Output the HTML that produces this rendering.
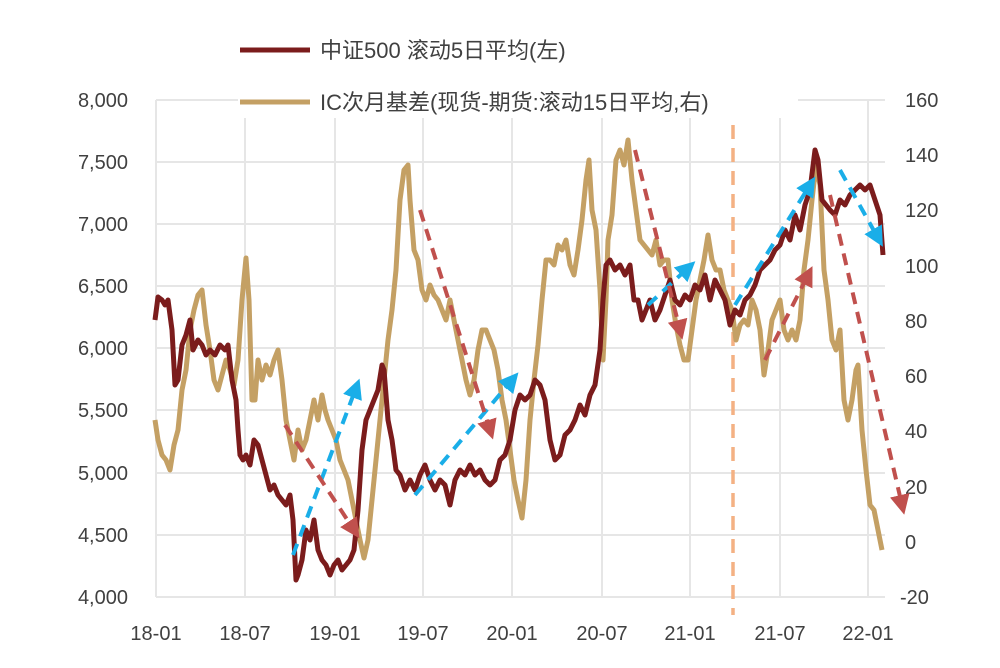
<!DOCTYPE html>
<html><head><meta charset="utf-8"><style>
body{margin:0;background:#fff}
svg text{font-family:"Liberation Sans","Noto Sans CJK SC",sans-serif;fill:#404040}
</style></head><body>
<svg width="1000" height="663" viewBox="0 0 1000 663" xmlns="http://www.w3.org/2000/svg">
<defs>
<marker id="ab" markerWidth="5" markerHeight="5" refX="2.5" refY="2.5" orient="auto" markerUnits="strokeWidth"><path d="M0,0 L5,2.5 L0,5 z" fill="#1aaee8"/></marker>
<marker id="ar" markerWidth="5" markerHeight="5" refX="2.5" refY="2.5" orient="auto" markerUnits="strokeWidth"><path d="M0,0 L5,2.5 L0,5 z" fill="#c0504d"/></marker>
</defs>
<g stroke="#e6e6e6" stroke-width="2">
<line x1="156" y1="100" x2="885" y2="100"/><line x1="156" y1="162" x2="885" y2="162"/><line x1="156" y1="224" x2="885" y2="224"/><line x1="156" y1="286" x2="885" y2="286"/><line x1="156" y1="348" x2="885" y2="348"/><line x1="156" y1="410" x2="885" y2="410"/><line x1="156" y1="473" x2="885" y2="473"/><line x1="156" y1="535" x2="885" y2="535"/><line x1="156" y1="597" x2="885" y2="597"/>
<line x1="156" y1="100" x2="156" y2="597"/><line x1="245" y1="100" x2="245" y2="597"/><line x1="335" y1="100" x2="335" y2="597"/><line x1="423" y1="100" x2="423" y2="597"/><line x1="512" y1="100" x2="512" y2="597"/><line x1="602" y1="100" x2="602" y2="597"/><line x1="690" y1="100" x2="690" y2="597"/><line x1="780" y1="100" x2="780" y2="597"/><line x1="868" y1="100" x2="868" y2="597"/>
</g>
<g font-size="20" text-anchor="end">
<text x="128" y="107">8,000</text><text x="128" y="169">7,500</text><text x="128" y="231">7,000</text><text x="128" y="293">6,500</text><text x="128" y="355">6,000</text><text x="128" y="417">5,500</text><text x="128" y="480">5,000</text><text x="128" y="542">4,500</text><text x="128" y="604">4,000</text>
</g>
<g font-size="20">
<text x="905" y="107">160</text><text x="905" y="162">140</text><text x="905" y="217">120</text><text x="905" y="273">100</text><text x="905" y="328">80</text><text x="905" y="383">60</text><text x="905" y="438">40</text><text x="905" y="494">20</text><text x="905" y="549">0</text><text x="900" y="604">-20</text>
</g>
<g font-size="20" text-anchor="middle">
<text x="156" y="640">18-01</text><text x="245" y="640">18-07</text><text x="335" y="640">19-01</text><text x="423" y="640">19-07</text><text x="512" y="640">20-01</text><text x="602" y="640">20-07</text><text x="690" y="640">21-01</text><text x="780" y="640">21-07</text><text x="868" y="640">22-01</text>
</g>
<line x1="733" y1="125" x2="733" y2="615" stroke="#f4b183" stroke-width="3.5" stroke-dasharray="14,9"/>
<polyline fill="none" stroke="#c4a064" stroke-width="5" stroke-linejoin="round" points="155,420 158,440 162,455 166,460 170,470 174,445 178,430 182,390 186,370 190,330 194,310 198,295 202,290 206,325 210,350 214,380 218,390 222,375 226,360 230,370 234,385 238,360 242,300 246,258 249,300 252,400 255,400 258,360 262,380 266,365 270,375 274,360 278,350 282,380 286,420 290,440 294,460 298,430 302,450 306,440 310,420 314,400 318,420 322,395 325,410 328,420 332,430 336,440 340,460 344,470 348,480 352,500 356,520 360,540 364,558 368,540 372,500 376,460 380,420 384,380 388,340 392,310 396,270 400,200 404,170 408,165 410,200 414,250 418,260 422,290 426,300 430,285 434,295 438,300 442,310 446,320 450,300 454,320 458,340 462,360 466,380 470,395 474,380 478,350 482,330 486,330 490,340 494,350 498,370 502,400 506,420 510,450 514,480 518,500 522,518 526,480 530,420 534,380 538,345 542,300 546,260 550,260 554,265 558,245 562,250 566,240 570,265 574,275 578,250 582,220 586,180 589,160 592,210 596,230 600,290 603,360 606,300 608,240 612,215 616,160 620,150 624,165 628,140 632,180 636,210 640,240 644,245 648,250 652,255 656,240 660,265 664,260 668,260 672,300 676,325 680,345 684,360 688,360 692,330 696,300 700,280 704,260 708,235 712,260 716,270 720,270 724,290 728,300 732,310 736,340 740,325 744,320 748,325 752,300 756,310 760,330 764,375 768,350 772,320 776,310 780,300 784,330 788,340 792,330 796,340 800,320 804,270 808,240 812,200 816,165 820,185 824,270 828,300 832,340 836,350 840,330 844,400 848,420 852,400 856,370 858,365 862,430 866,470 870,505 874,510 878,530 882,550"/>
<polyline fill="none" stroke="#7b1c1c" stroke-width="5" stroke-linejoin="round" points="155,320 158,297 162,300 165,305 168,300 172,330 175,385 178,380 182,345 186,335 190,320 193,350 198,340 202,345 206,355 210,350 215,355 220,345 225,350 228,345 232,380 236,400 238,430 240,455 243,460 246,455 250,465 254,440 258,445 262,460 266,475 270,490 274,485 278,495 282,500 286,505 290,495 293,520 296,580 298,575 302,560 306,530 310,540 314,520 318,550 322,560 326,565 330,575 334,565 338,560 342,570 346,565 350,560 354,550 358,510 362,450 366,420 370,410 374,400 378,390 382,365 384,370 388,420 392,440 396,470 400,475 405,490 410,480 415,490 420,475 425,465 430,480 435,490 440,480 445,485 450,505 455,480 460,470 465,475 470,465 475,475 480,470 485,480 490,485 495,480 500,460 505,455 510,440 515,410 520,395 525,400 530,395 535,380 540,385 545,400 550,440 555,460 560,455 565,435 570,430 575,420 580,405 585,415 590,395 595,385 600,350 603,300 606,265 610,260 615,270 620,265 625,275 630,265 634,300 638,300 642,320 646,310 650,300 655,320 660,310 665,295 670,280 675,300 680,305 685,295 690,300 695,285 700,290 705,275 710,300 715,280 720,290 725,300 730,325 735,310 740,315 745,300 750,295 755,285 760,270 765,265 770,260 775,250 780,245 785,230 790,240 795,215 800,230 805,205 810,190 815,150 818,160 822,200 826,205 830,210 835,215 840,200 845,205 850,195 855,190 860,185 865,190 870,185 875,200 880,215 883,255"/>
<g stroke="#1aaee8" stroke-width="4" stroke-dasharray="12,8" fill="none">
<line x1="293" y1="555" x2="356" y2="388" marker-end="url(#ab)"/>
<line x1="415" y1="495" x2="512" y2="380" marker-end="url(#ab)"/>
<line x1="648" y1="305" x2="688" y2="268" marker-end="url(#ab)"/>
<line x1="735" y1="305" x2="810" y2="185" marker-end="url(#ab)"/>
<line x1="840" y1="170" x2="878" y2="238" marker-end="url(#ab)"/>
</g>
<g stroke="#c0504d" stroke-width="4" stroke-dasharray="12,8" fill="none">
<line x1="285" y1="425" x2="354" y2="530" marker-end="url(#ar)"/>
<line x1="420" y1="210" x2="490" y2="430" marker-end="url(#ar)"/>
<line x1="635" y1="150" x2="680" y2="330" marker-end="url(#ar)"/>
<line x1="765" y1="360" x2="808" y2="275" marker-end="url(#ar)"/>
<line x1="830" y1="195" x2="902" y2="505" marker-end="url(#ar)"/>
</g>
<line x1="240" y1="50" x2="310" y2="50" stroke="#7b1c1c" stroke-width="5"/>
<text x="320" y="58" font-size="22">中证500 滚动5日平均(左)</text>
<rect x="238" y="86" width="560" height="32" fill="#fff"/>
<line x1="240" y1="102" x2="310" y2="102" stroke="#c4a064" stroke-width="5"/>
<text x="320" y="110" font-size="22">IC次月基差(现货-期货:滚动15日平均,右)</text>
</svg>
</body></html>
